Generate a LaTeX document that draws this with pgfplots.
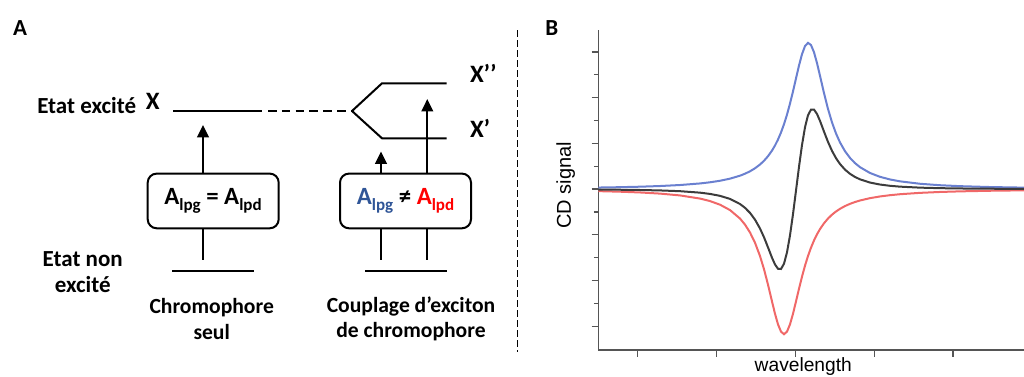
\documentclass[border=0pt]{standalone}
\usepackage{fontspec}
\setmainfont{Carlito}
\newfontfamily\arial{Liberation Sans}
\usepackage{pgfplots}
\pgfplotsset{compat=1.18}
\usetikzlibrary{arrows.meta}
\definecolor{bluec}{HTML}{6A80D0}
\definecolor{redc}{HTML}{F06868}
\definecolor{blackc}{HTML}{3C3C3C}
\definecolor{txtblue}{HTML}{2F5597}
\definecolor{txtred}{HTML}{FF0000}
\definecolor{axgray}{HTML}{555555}
\newcommand\sub[1]{\raisebox{-3pt}{\fontsize{8.5}{9}\selectfont #1}}
\begin{document}
\begin{tikzpicture}
\useasboundingbox (0pt,0pt) rectangle (512pt,188pt);
% ---------------- Panel A (schematic) ----------------
\begin{axis}[at={(0pt,0pt)}, anchor=south west, scale only axis,
  width=512pt, height=188pt, xmin=0, xmax=1024, ymin=0, ymax=376,
  y dir=reverse, hide axis, clip=false]
\tikzset{lv/.style={black, solid, mark=none, line width=1pt},
  arr/.style={lv, -{Triangle[width=5.8pt,length=6.2pt]}}}
% excited level X and dashed link
\addplot[lv] coordinates {(173,111) (262,111)};
\addplot[lv, dash pattern=on 4.3pt off 2.6pt] coordinates {(268,111) (352,111)};
% split levels
\addplot[lv] coordinates {(352,111) (382,83.3) (446.7,83.3)};
\addplot[lv] coordinates {(352,111) (382,138.3) (446.7,138.3)};
% ground levels
\addplot[lv] coordinates {(172.3,270.7) (254,270.7)};
\addplot[lv] coordinates {(365,270.7) (446.7,270.7)};
% arrows
\addplot[arr] coordinates {(203,174) (203,125)};
\addplot[arr] coordinates {(381,174) (381,151.5)};
\addplot[arr] coordinates {(427.3,174) (427.3,99)};
% lines from ground to boxes
\addplot[lv] coordinates {(203,228.3) (203,260)};
\addplot[lv] coordinates {(381,228.3) (381,260)};
\addplot[lv] coordinates {(427.3,228.3) (427.3,260)};
% boxes
\draw[line width=1pt, rounded corners=4.5pt] (axis cs:147.7,173.6) rectangle (axis cs:278.7,228.3);
\draw[line width=1pt, rounded corners=4.5pt] (axis cs:340,173.6) rectangle (axis cs:471,228.3);
% separator
\addplot[lv, line width=0.75pt, dash pattern=on 3.4pt off 1.6pt] coordinates {(517.3,30) (517.3,351.7)};
% texts
\node[font=\bfseries\fontsize{11.5}{12}\selectfont] at (axis cs:20,28) {A};
\node[font=\bfseries\fontsize{11.5}{12}\selectfont] at (axis cs:551.7,28) {B};
\node[font=\bfseries\fontsize{11.5}{12}\selectfont] at (axis cs:86.7,106) {Etat excité};
\node[font=\bfseries\fontsize{12.5}{13}\selectfont] at (axis cs:152.7,101.7) {X};
\node[font=\bfseries\fontsize{12.5}{13}\selectfont] at (axis cs:483.3,73.3) {X’’};
\node[font=\bfseries\fontsize{12.5}{13}\selectfont] at (axis cs:480,128.3) {X’};
\node[font=\bfseries\fontsize{11.5}{12}\selectfont, align=center] at (axis cs:82.7,272) {Etat non\\[1pt]excité};
\node[font=\bfseries\fontsize{10.8}{12.8}\selectfont, align=center] at (axis cs:211.7,319) {Chromophore\\seul};
\node[font=\bfseries\fontsize{10.8}{12.8}\selectfont, align=center] at (axis cs:411,319) {Couplage d’exciton\\de chromophore};
\node[font=\bfseries\fontsize{12.4}{13}\selectfont] at (axis cs:213,201) {A\sub{lpg} = A\sub{lpd}};
\node[font=\bfseries\fontsize{12.4}{13}\selectfont] at (axis cs:405.5,201) {\textcolor{txtblue}{A\sub{lpg}} ≠ \textcolor{txtred}{A\sub{lpd}}};
% panel B labels
\node[font=\arial\fontsize{10}{11}\selectfont, rotate=90] at (axis cs:565.8,185.3) {CD signal};
\node[font=\arial\fontsize{9.6}{10}\selectfont, anchor=base] at (axis cs:803.3,371.5) {wavelength};
\end{axis}
% ---------------- Panel B (CD spectra) ----------------
\begin{axis}[at={(299.15pt,13pt)}, anchor=south west, scale only axis,
  width=212.85pt, height=160pt,
  xmin=598.3, xmax=1024, ymin=-3.52, ymax=3.48,
  axis x line=bottom, axis y line=left,
  axis line style={-, line width=0.65pt, color=axgray},
  xtick={637.7,716.5,795.4,874.2,953}, xticklabels={},
  ytick={-3,-2,-1,0,1,2,3}, yticklabels={},
  minor ytick={-2.5,-1.5,-0.5,0.5,1.5,2.5},
  tick align=outside, major tick length=3.4pt, minor tick length=2.2pt,
  every tick/.style={line width=0.65pt, color=axgray},
  clip=false]
\addplot[line width=1pt, bluec] coordinates {
(598.3,0.0338) (620,0.0419) (640,0.0523) (660,0.0671) (680,0.0890) (700,0.1235)
(710,0.1487) (720,0.1822) (730,0.2282) (740,0.2934) (745,0.3365) (750,0.3894)
(755,0.4550) (760,0.5375) (764,0.6192) (768,0.7193) (772,0.8425) (775,0.9538)
(778,1.0847) (781,1.2389) (784,1.4197) (787,1.6297) (790,1.8700) (793,2.1375)
(796,2.4219) (799,2.7034) (802,2.9512) (805,3.1277) (808,3.1994) (811,3.1512)
(814,2.9935) (817,2.7569) (820,2.4793) (824,2.1004) (828,1.7542) (832,1.4593)
(836,1.2170) (840,1.0211) (845,0.8290) (850,0.6819) (855,0.5683) (860,0.4793)
(870,0.3523) (880,0.2685) (890,0.2109) (900,0.1697) (920,0.1164) (940,0.0846)
(960,0.0642) (990,0.0450) (1024,0.0321)};
\addplot[line width=1pt, redc] coordinates {
(598.3,-0.0447) (620,-0.0571) (640,-0.0737) (660,-0.0986) (680,-0.1383) (700,-0.2073)
(710,-0.2622) (720,-0.3410) (730,-0.4590) (740,-0.6443) (745,-0.7770) (750,-0.9489)
(755,-1.1733) (760,-1.4640) (764,-1.7526) (768,-2.0896) (772,-2.4571) (775,-2.7267)
(778,-2.9590) (781,-3.1181) (784,-3.1750) (787,-3.1181) (790,-2.9590) (793,-2.7267)
(796,-2.4571) (799,-2.1799) (802,-1.9156) (805,-1.6756) (808,-1.4640) (811,-1.2807)
(814,-1.1235) (817,-0.9892) (820,-0.8747) (824,-0.7477) (828,-0.6443) (832,-0.5595)
(836,-0.4895) (840,-0.4312) (845,-0.3713) (850,-0.3227) (855,-0.2828) (860,-0.2496)
(870,-0.1983) (880,-0.1612) (890,-0.1334) (900,-0.1122) (920,-0.0824) (940,-0.0630)
(960,-0.0497) (990,-0.0365) (1024,-0.0269)};
\addplot[line width=1pt, blackc] coordinates {
(598.3,-0.0101) (620,-0.0141) (640,-0.0199) (660,-0.0293) (680,-0.0459) (700,-0.0779)
(710,-0.1056) (720,-0.1477) (730,-0.2146) (740,-0.3263) (745,-0.4097) (750,-0.5203)
(755,-0.6680) (760,-0.8616) (764,-1.0541) (768,-1.2744) (772,-1.5016) (775,-1.6488)
(778,-1.7431) (781,-1.7477) (784,-1.6324) (787,-1.3842) (790,-1.0128) (793,-0.5480)
(796,-0.0327) (799,0.4869) (802,0.9631) (805,1.3505) (808,1.6145) (811,1.7396)
(814,1.7391) (817,1.6440) (820,1.4923) (824,1.2580) (828,1.0322) (832,0.8368)
(836,0.6766) (840,0.5486) (845,0.4257) (850,0.3341) (855,0.2655) (860,0.2136)
(870,0.1432) (880,0.0998) (890,0.0721) (900,0.0535) (920,0.0316) (940,0.0201)
(960,0.0135) (990,0.0079) (1024,0.0048)};
\end{axis}
\end{tikzpicture}
\end{document}
